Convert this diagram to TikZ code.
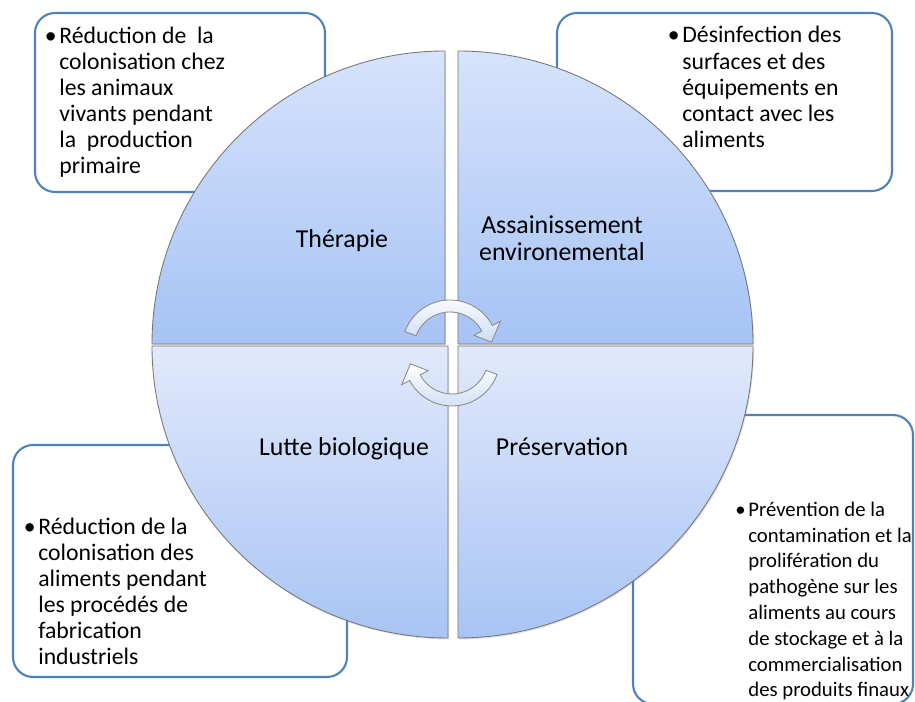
\documentclass[tikz,border=0pt]{standalone}
\usepackage{fontspec}
\setmainfont{Carlito}
\usetikzlibrary{shadows}

\definecolor{boxblue}{RGB}{79,129,189}
\definecolor{quadtop}{RGB}{214,227,251}
\definecolor{quadbot}{RGB}{166,195,245}
\definecolor{lowtop}{RGB}{225,233,251}
\definecolor{lowbot}{RGB}{168,196,244}
\definecolor{rimgray}{RGB}{120,120,120}
\definecolor{arrowgray}{RGB}{140,140,140}
\definecolor{arrowblue}{RGB}{205,220,245}

\newcommand{\puce}{\llap{•\hspace{1.5pt}}}

\tikzset{
  infobox/.style={draw=boxblue, line width=1.2pt, fill=white, rounded corners=0.4cm},
  quadrant/.style={draw=rimgray, line width=0.5pt,
    drop shadow={opacity=0.25, shadow xshift=0.6pt, shadow yshift=-0.8pt}},
  topquad/.style={quadrant, top color=quadtop, bottom color=quadbot},
  lowquad/.style={quadrant, top color=lowtop, bottom color=lowbot},
  quadtext/.style={anchor=base, align=center, font=\fontsize{14.7pt}{15.9pt}\selectfont},
  boxtext/.style={anchor=base west, inner sep=0pt, align=left, font=\fontsize{13.5pt}{14.9pt}\selectfont},
  cyclearrow/.style={draw=arrowgray, line width=0.5pt, top color=white, bottom color=arrowblue},
}

\begin{document}
\begin{tikzpicture}[x=0.02cm, y=0.02cm]
  \useasboundingbox (0,0) rectangle (915,702);
  \clip (0,0) rectangle (915,702);

  \draw[infobox] (35,689) rectangle (325,510);
  \draw[infobox] (557,689) rectangle (892,511);
  \draw[infobox] (13,257) rectangle (347,25);
  \draw[infobox] (633,287) rectangle (913,-2);

  % nodes anchored at the baseline of their last line
  \node (txtther) at (59,528) [boxtext] {\puce Réduction de\ \ la\\colonisation chez\\les animaux\\vivants pendant\\la\ \ production\\primaire};
  \node (txtassa) at (682,554.3) [boxtext] {\puce Désinfection des\\surfaces et des\\équipements en\\contact avec les\\aliments};
  \node (txtlutte) at (38,37) [boxtext] {\puce Réduction de la\\colonisation des\\aliments pendant\\les procédés de\\fabrication\\industriels};
  \node (txtpres) at (748,5) [boxtext, font=\fontsize{11.8pt}{14.7pt}\selectfont] {\puce Prévention de la\\contamination et la\\prolifération du\\pathogène sur les\\aliments au cours\\de stockage et à la\\commercialisation\\des produits finaux};

  \path[topquad] (445,358) -- (152,358) arc[start angle=180, end angle=90, x radius=293, y radius=293] -- cycle;
  \path[topquad] (458,358) -- (458,651) arc[start angle=90, end angle=0, x radius=295, y radius=293] -- cycle;
  \path[lowquad] (448,356) -- (448,64) arc[start angle=270, end angle=180, x radius=296, y radius=292] -- cycle;
  \path[lowquad] (458,356) -- (753,356) arc[start angle=0, end angle=-90, x radius=295, y radius=292] -- cycle;

  \node (ther) at (342,454) [quadtext] {Thérapie};
  \node (assa) at (562,441) [quadtext] {Assainissement\\environemental};
  \node (lutte) at (344,246) [quadtext] {Lutte biologique};
  \node (pres) at (562,246) [quadtext] {Préservation};

  \begin{scope}[shift={(450,354)}]
    \path[cyclearrow] (160:48) arc[start angle=160, end angle=28, radius=48] -- (28:57) -- (8:42)
      -- (28:27) -- (28:36) arc[start angle=28, end angle=160, radius=36] -- cycle;
  \end{scope}
  \begin{scope}[shift={(452,344)}]
    \path[cyclearrow] (-20:48) arc[start angle=-20, end angle=-152, radius=48] -- (-152:57) -- (-172:42)
      -- (-152:27) -- (-152:36) arc[start angle=-152, end angle=-20, radius=36] -- cycle;
  \end{scope}
\end{tikzpicture}
\end{document}
